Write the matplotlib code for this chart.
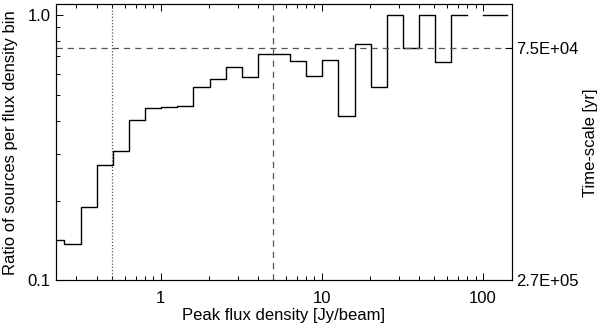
import numpy as np
import matplotlib
matplotlib.use("Agg")
import matplotlib.pyplot as plt
from matplotlib.ticker import FixedLocator, FixedFormatter, NullFormatter, LogLocator

# ======================
# |       DATA         |
# ======================
# bin centres, log10 of peak flux density [Jy/beam], 0.1 dex bins
log_flux = [-0.65, -0.55, -0.45, -0.35, -0.25, -0.15, -0.05, 0.05, 0.15, 0.25,
            0.35, 0.45, 0.55, 0.65, 0.75, 0.85, 0.95, 1.05, 1.15, 1.25,
            1.35, 1.45, 1.55, 1.65, 1.75, 1.85, 1.95, 2.05, 2.15]
ratio = [0.142, 0.137, 0.189, 0.272, 0.307, 0.404, 0.445, 0.449, 0.454, 0.535,
         0.574, 0.638, 0.582, 0.713, 0.710, 0.672, 0.590, 0.678, 0.416, 0.779,
         0.536, 1.0, 0.75, 1.0, 0.665, 1.0, np.nan, 1.0, 1.0]

ratio_level = 0.75      # horizontal dashed line
flux_dotted = 0.5
flux_dashed = 5.0
right_ticks = [0.1, 0.75]
right_labels = ["2.7E+05", "7.5E+04"]

plt.rcParams["font.family"] = ["Liberation Sans", "DejaVu Sans"]
plt.rcParams["font.size"] = 12

fig = plt.figure(figsize=(6.0, 3.26), dpi=100)
ax = fig.add_axes([0.0933, 0.1396, 0.7597, 0.8481])

x = 10 ** np.array(log_flux)
ax.step(x, ratio, where="mid", color="black", lw=1.0)

ax.axhline(ratio_level, color="#555555", lw=0.9, ls=(0, (5, 4)))
ax.axvline(flux_dotted, color="#555555", lw=0.9, ls=(0, (1, 1.5)))
ax.axvline(flux_dashed, color="#555555", lw=0.9, ls=(0, (5, 4)))

ax.set_xscale("log")
ax.set_yscale("log")
ax.set_xlim(10 ** -0.65, 151)
ax.set_ylim(0.1, 1.1)

ax.xaxis.set_major_locator(FixedLocator([1, 10, 100]))
ax.xaxis.set_major_formatter(FixedFormatter(["1", "10", "100"]))
ax.xaxis.set_minor_locator(LogLocator(subs=np.arange(2, 10)))
ax.xaxis.set_minor_formatter(NullFormatter())
ax.yaxis.set_major_locator(FixedLocator([0.1, 1.0]))
ax.yaxis.set_major_formatter(FixedFormatter(["0.1", "1.0"]))
ax.yaxis.set_minor_locator(LogLocator(subs=np.arange(2, 10)))
ax.yaxis.set_minor_formatter(NullFormatter())

ax.tick_params(which="both", direction="in", top=True, right=False, width=0.7)
ax.tick_params(which="major", length=5)
ax.tick_params(which="minor", length=3)
ax.tick_params(axis="x", which="major", pad=7.5)
ax.tick_params(axis="y", which="major", pad=4)
for s in ax.spines.values():
    s.set_linewidth(0.8)

ax.set_xlabel("Peak flux density [Jy/beam]", labelpad=1.5)
ax.set_ylabel("Ratio of sources per flux density bin")
ax.yaxis.set_label_coords(-0.0834, 0.5)

# time-scale axis on the right
ax2 = ax.twinx()
ax2.set_yscale("log")
ax2.set_ylim(ax.get_ylim())
ax2.yaxis.set_major_locator(FixedLocator(right_ticks))
ax2.yaxis.set_major_formatter(FixedFormatter(right_labels))
ax2.yaxis.set_minor_locator(FixedLocator([]))
ax2.tick_params(which="major", direction="in", length=5, width=0.7, pad=3)
ax2.set_ylabel("Time-scale [yr]")
ax2.yaxis.set_label_coords(1.1565, 0.5)

fig.savefig("out.png", dpi=100)
